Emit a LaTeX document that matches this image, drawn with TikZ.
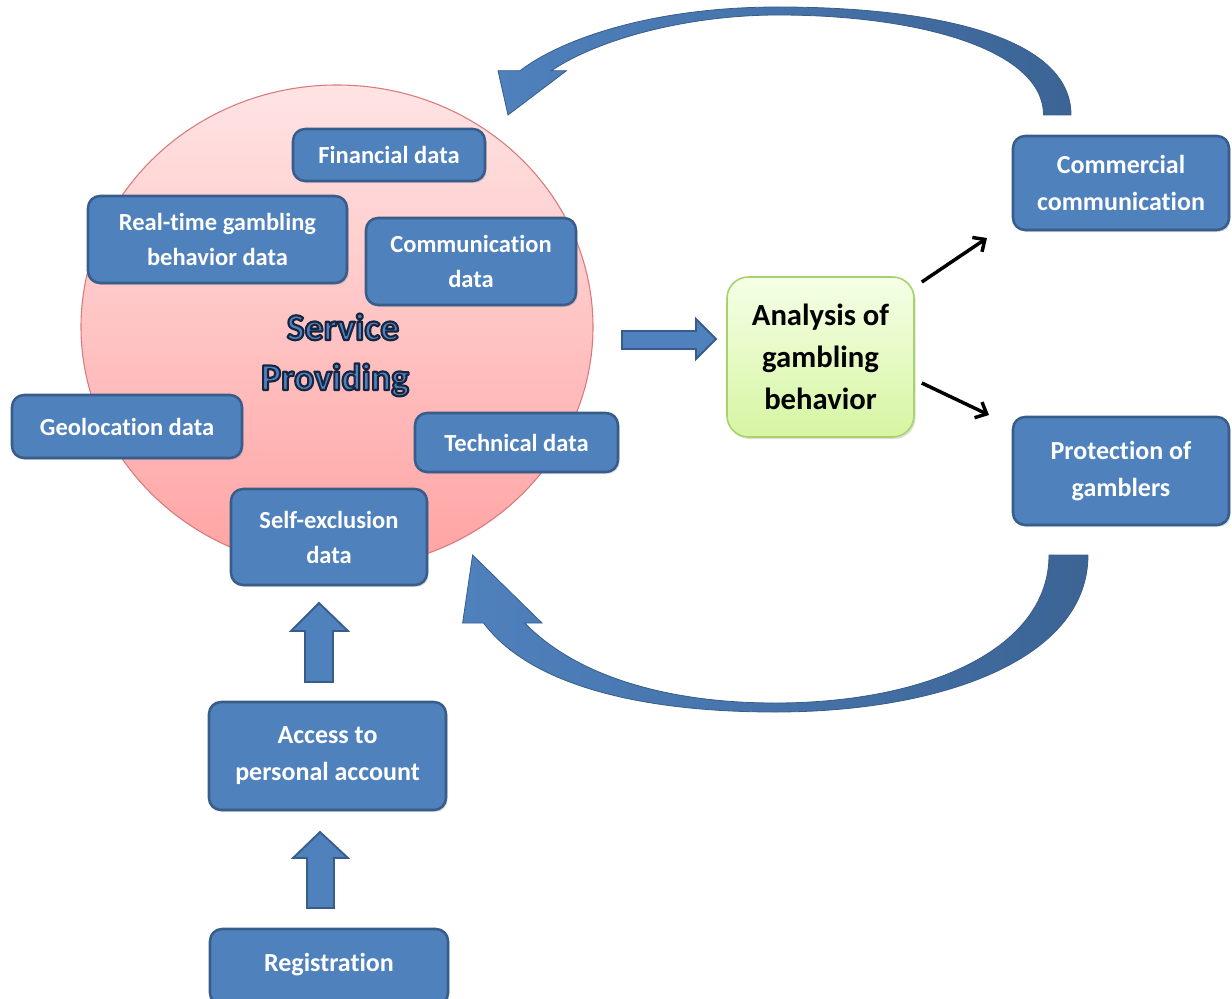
\documentclass[tikz,border=0pt]{standalone}
\usepackage{fontspec}
\setmainfont{Carlito}[Ligatures={NoCommon,NoContextual}]
\usetikzlibrary{shapes.geometric,shadows,calc,arrows.meta}

\definecolor{boxblue}{HTML}{4F81BD}
\definecolor{boxedge}{HTML}{385D8A}
\definecolor{arrowdark}{HTML}{3C6495}
\definecolor{circtop}{HTML}{FFE4E4}
\definecolor{circbottom}{HTML}{FFA3A3}
\definecolor{circedge}{HTML}{D9797B}
\definecolor{greentop}{HTML}{F5FFE6}
\definecolor{greenbottom}{HTML}{D6F5A2}
\definecolor{greenedge}{HTML}{A8D36C}

% box given by its corners in pixel units: name, x1, y1, x2, y2, text
\newcommand\databox[7][]{%
  \node[blockbox,#1,minimum width={(#5-#3)*0.75pt},minimum height={(#6-#4)*0.75pt}]
    (#2) at ({(#3+#5)/2},{(#4+#6)/2}) {#7};}

% blue lettering with a dark outline (fill and stroke render mode)
\newcommand\outlinedtext[1]{%
  {\color{boxblue}\special{pdf:literal direct 0.09 0.15 0.25 RG 1.6 w 1 j 2 Tr}#1%
   \special{pdf:literal direct 0 Tr}}}

\begin{document}
\begin{tikzpicture}[x=0.75pt,y=-0.75pt,
  blockbox/.style={draw=boxedge, line width=1.9pt, fill=boxblue, rounded corners=9pt,
    text=white, align=center, inner sep=0pt,
    font=\bfseries\fontsize{18.4pt}{26.25pt}\selectfont,
    drop shadow={shadow xshift=1.2pt, shadow yshift=-1.5pt, opacity=0.25}},
  outerbox/.style={font=\bfseries\fontsize{19.5pt}{27.75pt}\selectfont},
  blockarrow/.style={fill=boxblue, draw=boxedge, line width=1.4pt, line join=miter},
  bentarrow/.style={draw=boxedge, line width=0.6pt, left color=boxblue, right color=arrowdark},
  thinarrow/.style={draw=black, line width=2.6pt, -{Straight Barb[length=7pt,width=13pt]}},
  servicetxt/.style={font=\bfseries\fontsize{28.3pt}{39pt}\selectfont, inner sep=0pt, anchor=base},
]
\useasboundingbox (0,0) rectangle (1232,999);

% central service area
\node[ellipse, draw=circedge, line width=0.8pt, top color=circtop, bottom color=circbottom,
  minimum width=384pt, minimum height=363pt, inner sep=0pt] (svc) at (337,327) {};

% feedback loop, top
\path[bentarrow]
  (1071,115) .. controls (1071,35) and (930,7) .. (778,7)
  .. controls (650,7) and (560,40) .. (520,70.7)
  -- (498,70.7) -- (508,115) -- (566.5,70.7) -- (551.4,70.7)
  .. controls (600,38) and (690,15) .. (778,15)
  .. controls (920,15) and (1043.5,50) .. (1043.5,115) -- cycle;

% feedback loop, bottom
\path[bentarrow]
  (1088,555) .. controls (1088,660) and (940,712) .. (775,712)
  .. controls (640,712) and (530,685) .. (483.5,623)
  -- (462.6,623) -- (472.6,555) -- (542,623) -- (524.8,623)
  .. controls (575,675) and (665,703) .. (775,703)
  .. controls (925,703) and (1049,650) .. (1049,555) -- cycle;

% title of the service area
\node[servicetxt] (svcA) at (343,340) {\outlinedtext{Service}};
\node[servicetxt] (svcB) at (335,390) {\outlinedtext{Providing}};

% data collected while the service is provided
\databox{fin}{293}{129}{485}{181}{Financial data}
\databox{rt}{88}{196}{347}{283}{Real-time gambling\\behavior data}
\databox{comm}{366}{218}{576}{305}{Communication\\data}
\databox{geo}{12}{395}{242}{458}{Geolocation data}
\databox{tech}{415}{413}{618}{472}{Technical data}
\databox{self}{231}{489}{427}{585}{Self-exclusion\\data}

% entry path
\databox[outerbox]{acc}{209}{702}{446}{810}{Access to\\personal account}
\databox[outerbox]{reg}{210}{929}{448}{1005}{\raisebox{6.75pt}{Registration}}

% outcomes
\databox[outerbox]{cc}{1013}{136}{1229}{230}{Commercial\\communication}
\databox[outerbox]{prot}{1013}{417}{1229}{525}{Protection of\\gamblers}

% analysis
\node[draw=greenedge, line width=1.2pt, top color=greentop, bottom color=greenbottom,
  rounded corners=16pt, minimum width={187*0.75pt}, minimum height={160*0.75pt},
  inner sep=0pt, align=center, font=\bfseries\fontsize{23pt}{31.5pt}\selectfont,
  drop shadow={shadow xshift=1.2pt, shadow yshift=-1.5pt, opacity=0.25}]
  (ana) at (820.5,357) {Analysis of\\gambling\\behavior};

% block arrows
\path[blockarrow] (305,682) -- (305,631) -- (291,631) -- (319,603) -- (348,631)
  -- (333,631) -- (333,682) -- cycle;
\path[blockarrow] (307,908) -- (307,858) -- (293,858) -- (320,832) -- (348,858)
  -- (334,858) -- (334,908) -- cycle;
\path[blockarrow] (622,331) -- (696,331) -- (696,319) -- (716,339) -- (696,359)
  -- (696,349) -- (622,349) -- cycle;

% analysis results
\coordinate (toCC) at (987,238);
\coordinate (toProt) at (989,415);
\draw[thinarrow] (ana.east |- 0,282) ++(7,0) -- (toCC);
\draw[thinarrow] (ana.east |- 0,383) ++(7,0) -- (toProt);
\end{tikzpicture}
\end{document}
